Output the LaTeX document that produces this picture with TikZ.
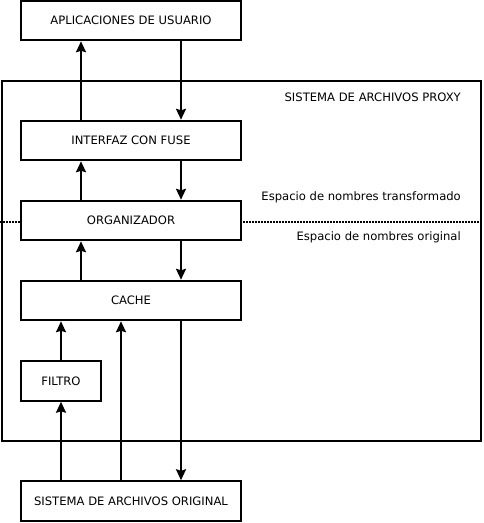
\documentclass[tikz,border=0pt]{standalone}
\usepackage{fontspec}
\setmainfont{DejaVu Sans}
\usetikzlibrary{arrows.meta}
\begin{document}
\begin{tikzpicture}[x=1pt,y=-1pt,
  box/.style={draw,fill=white,line width=2pt,minimum height=39.5pt,inner sep=0pt,font=\fontsize{11.6}{14}\selectfont},
  lbl/.style={anchor=east,inner sep=0pt,font=\fontsize{11.6}{14}\selectfont},
  arr/.style={line width=2pt,-{Stealth[width=10pt,length=11pt,inset=1.5pt]}}]
\useasboundingbox (0,0) rectangle (483,523);
\node[draw,line width=2pt,minimum width=479.5pt,minimum height=359.5pt,inner sep=0pt] (proxy) at (241.25,260.75) {};
\coordinate (dl) at (0,221.5);
\coordinate (dr) at (481,221.5);
\draw[line width=2pt,dash pattern=on 1.5pt off 1.5pt] (dl) -- (dr);
\node[box,minimum width=220pt] (apps) at (131,20.5) {APLICACIONES DE USUARIO};
\node[box,minimum width=220pt] (fuse) at (131,140.5) {INTERFAZ CON FUSE};
\node[box,minimum width=220pt] (org) at (131,220.5) {ORGANIZADOR};
\node[box,minimum width=220pt] (cache) at (131,300.5) {CACHE};
\node[box,minimum width=80pt] (filtro) at (61,381) {FILTRO};
\node[box,minimum width=220pt] (orig) at (131,501) {SISTEMA DE ARCHIVOS ORIGINAL};
\node[lbl] (tproxy) at (461,97) {SISTEMA DE ARCHIVOS PROXY};
\node[lbl] (ttrans) at (461,197) {Espacio de nombres transformado};
\node[lbl] (torig) at (461,237) {Espacio de nombres original};
\draw[arr] ([xshift=-50pt]fuse.north) -- ([xshift=-50pt]apps.south);
\draw[arr] ([xshift=50pt]apps.south) -- ([xshift=50pt]fuse.north);
\draw[arr] ([xshift=-50pt]org.north) -- ([xshift=-50pt]fuse.south);
\draw[arr] ([xshift=50pt]fuse.south) -- ([xshift=50pt]org.north);
\draw[arr] ([xshift=-50pt]cache.north) -- ([xshift=-50pt]org.south);
\draw[arr] ([xshift=50pt]org.south) -- ([xshift=50pt]cache.north);
\draw[arr] (filtro.north) -- (filtro.north |- cache.south);
\draw[arr] (orig.north -| filtro.south) -- (filtro.south);
\draw[arr] ([xshift=-10pt]orig.north) -- ([xshift=-10pt]cache.south);
\draw[arr] ([xshift=50pt]cache.south) -- ([xshift=50pt]orig.north);
\end{tikzpicture}
\end{document}
